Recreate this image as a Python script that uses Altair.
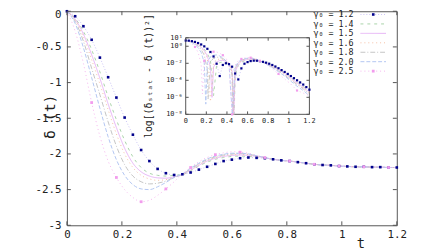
import altair as alt
import pandas as pd

MONO = "DejaVu Sans Mono"
FRAME = "#555555"
TXT = "#222222"

series = ["1.2", "1.4", "1.5", "1.6", "1.8", "2.0", "2.5"]
legend_labels = ["γ₀ = 1.2", "γ₀ = 1.4", "γ₀ = 1.5", "γ₀ = 1.6", "γ₀ = 1.8", "γ₀ = 2.0", "γ₀ = 2.5"]
colors = ["#c9c3f5", "#a9d3a9", "#e6b3f5", "#f6bfa3", "#c4c4c4", "#b3c6f2", "#f5b5ef"]
dashes = [[1, 2], [3, 4], [1, 0], [1, 3], [5, 2, 1, 2], [4, 2], [1, 3]]
dot_color = "#00008b"
pink_mark_color = "#f29ced"

# main panel sampling times
t = [0.00, 0.03, 0.06, 0.09, 0.12, 0.15, 0.18, 0.21, 0.24, 0.27, 0.30, 0.33, 0.36, 0.39,
     0.42, 0.45, 0.48, 0.51, 0.54, 0.57, 0.60, 0.63, 0.66, 0.69, 0.72, 0.75, 0.78, 0.81,
     0.84, 0.87, 0.90, 0.93, 0.96, 0.99, 1.02, 1.05, 1.08, 1.11, 1.14, 1.17, 1.20]

tail = [-2.075, -2.09, -2.10, -2.115, -2.13, -2.145, -2.155, -2.16, -2.17, -2.175, -2.18,
        -2.18, -2.185, -2.185, -2.19, -2.19]

d12 = [0, -0.07, -0.21, -0.40, -0.65, -0.925, -1.21, -1.49, -1.73, -1.945, -2.10, -2.21,
       -2.27, -2.295, -2.285, -2.26, -2.22, -2.18, -2.14, -2.10, -2.08, -2.06, -2.05, -2.055,
       -2.06] + tail
d14 = [0, -0.10, -0.28, -0.54, -0.85, -1.20, -1.52, -1.81, -2.04, -2.19, -2.27, -2.30, -2.31,
       -2.30, -2.29, -2.235, -2.17, -2.115, -2.075, -2.05, -2.035, -2.03, -2.035, -2.045,
       -2.06] + tail
d15 = [0, -0.11, -0.32, -0.61, -0.94, -1.30, -1.63, -1.92, -2.13, -2.25, -2.31, -2.335, -2.34,
       -2.32, -2.29, -2.225, -2.16, -2.10, -2.06, -2.035, -2.02, -2.015, -2.02, -2.035,
       -2.055] + tail
d16 = [0, -0.12, -0.36, -0.68, -1.02, -1.38, -1.72, -2.00, -2.19, -2.30, -2.35, -2.37, -2.36,
       -2.33, -2.29, -2.22, -2.15, -2.09, -2.05, -2.025, -2.01, -2.005, -2.01, -2.03,
       -2.055] + tail
d18 = [0, -0.14, -0.42, -0.80, -1.17, -1.55, -1.89, -2.15, -2.31, -2.39, -2.42, -2.41, -2.38,
       -2.33, -2.285, -2.21, -2.14, -2.08, -2.04, -2.015, -2.00, -1.995, -2.005, -2.025,
       -2.05] + tail
d20 = [0, -0.17, -0.51, -0.93, -1.36, -1.76, -2.08, -2.30, -2.43, -2.49, -2.50, -2.46, -2.40,
       -2.33, -2.28, -2.20, -2.13, -2.07, -2.03, -2.005, -1.99, -1.99, -2.00, -2.025,
       -2.05] + tail
d25 = [0, -0.28, -0.73, -1.28, -1.75, -2.10, -2.33, -2.50, -2.61, -2.67, -2.65, -2.58, -2.49,
       -2.39, -2.28, -2.19, -2.11, -2.05, -2.01, -1.985, -1.97, -1.975, -1.99, -2.02,
       -2.05] + tail

pink_mark_t = [0.09, 0.18, 0.27, 0.36, 0.45, 0.54, 0.63, 0.72, 0.81, 0.90, 0.99, 1.08, 1.17]

# inset: exponents of log10[(delta_stat - delta(t))^2]
e12 = [0.68, 0.66, 0.60, 0.51, 0.38, 0.21, -0.01, -0.30, -0.67, -1.20, -2.05, -3.5, -2.2,
       -2.0, -2.1, -2.4, -3.2, -3.9, -2.6, -2.05, -1.86, -1.74, -1.69, -1.70, -1.75, -1.83,
       -1.93, -2.05, -2.2, -2.38, -2.58, -2.8, -3.02, -3.25, -3.5, -3.75, -4.0, -4.25, -4.5,
       -4.8, -5.1]
ti14 = [0, 0.03, 0.06, 0.09, 0.12, 0.15, 0.18, 0.21, 0.24, 0.27, 0.30, 0.33, 0.36, 0.39, 0.42,
        0.45, 0.47, 0.48, 0.51, 0.54, 0.57, 0.60, 0.63, 0.66, 0.69, 0.72, 0.78, 0.84, 0.90,
        0.96, 1.02, 1.08, 1.14, 1.20]
ei14 = [0.68, 0.64, 0.56, 0.43, 0.25, -0.01, -0.35, -0.84, -1.65, -5.8, -2.19, -1.92, -1.84,
        -1.92, -2.0, -2.69, -8.0, -3.4, -2.25, -1.88, -1.71, -1.62, -1.59, -1.62, -1.68, -1.77,
        -2.0, -2.3, -2.7, -3.15, -3.65, -4.2, -4.7, -5.3]
ti15 = [0, 0.03, 0.06, 0.09, 0.12, 0.15, 0.18, 0.21, 0.24, 0.255, 0.27, 0.30, 0.33, 0.36,
        0.39, 0.42, 0.45, 0.466, 0.48, 0.51, 0.54, 0.57, 0.60, 0.63, 0.66, 0.69, 0.72, 0.78,
        0.84, 0.90, 0.96, 1.02, 1.08, 1.14, 1.20]
ei15 = [0.68, 0.64, 0.54, 0.40, 0.19, -0.10, -0.50, -1.14, -2.44, -6.0, -2.44, -1.84, -1.68,
        -1.65, -1.77, -2.0, -2.91, -8.0, -3.05, -2.09, -1.77, -1.62, -1.54, -1.51, -1.54,
        -1.62, -1.74, -2.0, -2.35, -2.75, -3.2, -3.75, -4.3, -4.8, -5.4]
ti16 = [0, 0.03, 0.06, 0.09, 0.12, 0.15, 0.18, 0.21, 0.24, 0.27, 0.30, 0.33, 0.36, 0.39, 0.42,
        0.45, 0.463, 0.48, 0.51, 0.54, 0.57, 0.60, 0.63, 0.66, 0.69, 0.72, 0.78, 0.84, 0.90,
        0.96, 1.02, 1.08, 1.14, 1.20]
ei16 = [0.68, 0.63, 0.52, 0.36, 0.14, -0.18, -0.66, -1.44, -6.5, -1.92, -1.59, -1.49, -1.54,
        -1.71, -2.0, -3.05, -8.0, -2.8, -2.0, -1.71, -1.57, -1.49, -1.47, -1.49, -1.59, -1.74,
        -2.05, -2.4, -2.8, -3.3, -3.85, -4.4, -4.9, -5.5]
ti18 = [0, 0.03, 0.06, 0.09, 0.12, 0.15, 0.18, 0.21, 0.217, 0.24, 0.27, 0.30, 0.33, 0.36,
        0.39, 0.42, 0.45, 0.455, 0.48, 0.51, 0.54, 0.57, 0.60, 0.63, 0.66, 0.69, 0.72, 0.78,
        0.84, 0.90, 0.96, 1.02, 1.08, 1.14, 1.20]
ei18 = [0.68, 0.62, 0.50, 0.29, 0.02, -0.39, -1.05, -2.8, -6.2, -1.84, -1.40, -1.28, -1.32,
        -1.44, -1.71, -2.04, -3.4, -8.0, -2.6, -1.92, -1.65, -1.51, -1.44, -1.42, -1.47, -1.56,
        -1.71, -2.05, -2.45, -2.9, -3.4, -3.95, -4.5, -5.0, -5.6]
ti20 = [0, 0.03, 0.06, 0.09, 0.12, 0.15, 0.18, 0.195, 0.21, 0.24, 0.27, 0.30, 0.33, 0.36,
        0.39, 0.42, 0.452, 0.48, 0.51, 0.54, 0.57, 0.60, 0.63, 0.66, 0.69, 0.72, 0.78, 0.84,
        0.90, 0.96, 1.02, 1.08, 1.14, 1.20]
ei20 = [0.68, 0.61, 0.45, 0.20, -0.16, -0.73, -1.92, -6.8, -1.92, -1.24, -1.05, -1.02, -1.14,
        -1.36, -1.71, -2.09, -8.0, -2.44, -1.84, -1.59, -1.47, -1.40, -1.40, -1.44, -1.56,
        -1.71, -2.1, -2.5, -3.0, -3.5, -4.1, -4.7, -5.2, -5.8]
ti25 = [0, 0.03, 0.06, 0.09, 0.12, 0.15, 0.162, 0.18, 0.21, 0.24, 0.27, 0.30, 0.33, 0.36,
        0.39, 0.42, 0.45, 0.48, 0.51, 0.54, 0.57, 0.60, 0.63, 0.66, 0.69, 0.72, 0.78, 0.84,
        0.90, 0.96, 1.02, 1.08, 1.14, 1.20]
ei25 = [0.68, 0.56, 0.33, -0.08, -0.71, -2.09, -5.6, -1.71, -1.02, -0.75, -0.64, -0.67, -0.82,
        -1.05, -1.40, -2.09, -8.0, -2.19, -1.71, -1.49, -1.38, -1.32, -1.34, -1.40, -1.54,
        -1.71, -2.1, -2.65, -3.25, -3.85, -4.45, -5.2, -5.5, -5.8]

x_ticks = [0, 0.2, 0.4, 0.6, 0.8, 1.0, 1.2]
y_ticks = [0, -0.5, -1, -1.5, -2, -2.5, -3]
inset_x_ticks = [0, 0.2, 0.4, 0.6, 0.8, 1.0, 1.2]
inset_x_labels = ["0", "0.2", "0.4", "0.6", "0.8", "1", "1.2"]
inset_y_ticks = [10, 1, 1e-2, 1e-4, 1e-6, 1e-8]
inset_y_labels = ["10¹", "10⁰", "10⁻²", "10⁻⁴", "10⁻⁶", "10⁻⁸"]

# ---------------- data frames ----------------
main_rows = []
for s, vals in zip(series, [d12, d14, d15, d16, d18, d20, d25]):
    for ti, v in zip(t, vals):
        main_rows.append({"t": ti, "d": v, "series": s})
main_df = pd.DataFrame(main_rows)
dots_df = main_df[main_df.series == "1.2"]
pink_df = main_df[(main_df.series == "2.5") & (main_df.t.round(2).isin(pink_mark_t))]

inset_rows = []
inset_sets = [(t, e12), (ti14, ei14), (ti15, ei15), (ti16, ei16), (ti18, ei18),
              (ti20, ei20), (ti25, ei25)]
for s, (ts, es) in zip(series, inset_sets):
    for ti, e in zip(ts, es):
        inset_rows.append({"t": ti, "v": 10.0 ** e, "series": s})
inset_df = pd.DataFrame(inset_rows)
inset_dots = inset_df[inset_df.series == "1.2"]
inset_pink = inset_df[(inset_df.series == "2.5") & (inset_df.t.round(3).isin(pink_mark_t))]

color = alt.Color("series:N", scale=alt.Scale(domain=series, range=colors), legend=None)
dash = alt.StrokeDash("series:N", scale=alt.Scale(domain=series, range=dashes), legend=None)

W, H = 336, 218

# ---------------- main panel ----------------
xs = alt.Scale(domain=[0, 1.2], nice=False, zero=False)
ys = alt.Scale(domain=[-3, 0], nice=False, zero=False)
xaxis = alt.Axis(values=x_ticks, labelExpr="toString(datum.value)", ticks=False, tickSize=0,
                 domain=False, grid=False, labelFont=MONO, labelFontSize=11, labelColor=TXT,
                 labelPadding=3, labelFlush=False, title="t", titleFont=MONO, titleFontSize=14,
                 titleFontWeight="normal", titleColor=TXT, titleX=299, titleY=19,
                 titleBaseline="middle", titleAlign="center")
yaxis = alt.Axis(values=y_ticks, labelExpr="toString(datum.value)", ticks=False, tickSize=0,
                 domain=False, grid=False, labelFont=MONO, labelFontSize=11, labelColor=TXT,
                 labelPadding=6, labelFlush=False,
                 labelOffset={"condition": {"test": "datum.value == 0", "value": 3}, "value": 0},
                 title="δ (t)", titleFont=MONO,
                 titleFontSize=15, titleFontWeight="normal", titleColor=TXT, titleX=-18,
                 titleY=107, titleAngle=270, titleBaseline="middle", titleAlign="center")
X = alt.X("t:Q", scale=xs, axis=xaxis)
Y = alt.Y("d:Q", scale=ys, axis=yaxis)

main_lines = alt.Chart(main_df).mark_line(strokeWidth=1, interpolate="monotone").encode(
    x=X, y=Y, color=color, strokeDash=dash)
main_dots = alt.Chart(dots_df).mark_square(size=7, color=dot_color, opacity=1).encode(x=X, y=Y)
main_pink = alt.Chart(pink_df).mark_square(size=8, color=pink_mark_color, opacity=1).encode(x=X, y=Y)

xt_df = pd.DataFrame({"t": x_ticks})
yt_df = pd.DataFrame({"d": y_ticks})
tick_b = alt.Chart(xt_df).mark_rule(color=FRAME).encode(x=X, y=alt.value(H), y2=alt.value(H - 4))
tick_t = alt.Chart(xt_df).mark_rule(color=FRAME).encode(x=X, y=alt.value(0), y2=alt.value(4))
tick_l = alt.Chart(yt_df).mark_rule(color=FRAME).encode(y=Y, x=alt.value(0), x2=alt.value(4))
tick_r = alt.Chart(yt_df).mark_rule(color=FRAME).encode(y=Y, x=alt.value(W), x2=alt.value(W - 4))

main = alt.layer(main_lines, main_dots, main_pink, tick_b, tick_t, tick_l, tick_r)

# ---------------- inset ----------------
IX0, IX1, IY0, IY1 = 121, 247, 105, 27
ixs = alt.Scale(domain=[0, 1.2], range=[IX0, IX1], nice=False, zero=False)
iys = alt.Scale(type="log", domain=[1e-8, 10], range=[IY0, IY1], nice=False, clamp=True)
IX = alt.X("t:Q", scale=ixs, axis=None)
IY = alt.Y("v:Q", scale=iys, axis=None)

frame_df = pd.DataFrame({"t": [0.0], "t2": [1.2], "v": [1e-8], "v2": [10.0]})
inset_frame = alt.Chart(frame_df).mark_rect(fillOpacity=0, stroke=FRAME, strokeWidth=1).encode(
    x=IX, x2="t2:Q", y=IY, y2="v2:Q")
inset_lines = alt.Chart(inset_df).mark_line(strokeWidth=0.9).encode(
    x=IX, y=IY, color=color, strokeDash=dash)
inset_dot = alt.Chart(inset_dots).mark_square(size=5, color=dot_color, opacity=1).encode(x=IX, y=IY)
inset_pk = alt.Chart(inset_pink).mark_square(size=5, color=pink_mark_color, opacity=1).encode(x=IX, y=IY)

ixt_df = pd.DataFrame({"t": inset_x_ticks, "lab": inset_x_labels})
iyt_df = pd.DataFrame({"v": inset_y_ticks, "lab": inset_y_labels})
itb = alt.Chart(ixt_df).mark_rule(color=FRAME).encode(x=IX, y=alt.value(IY0), y2=alt.value(IY0 - 3))
itt = alt.Chart(ixt_df).mark_rule(color=FRAME).encode(x=IX, y=alt.value(IY1), y2=alt.value(IY1 + 3))
itl = alt.Chart(iyt_df).mark_rule(color=FRAME).encode(y=IY, x=alt.value(IX0), x2=alt.value(IX0 + 3))
itr = alt.Chart(iyt_df).mark_rule(color=FRAME).encode(y=IY, x=alt.value(IX1), x2=alt.value(IX1 - 3))
ixl = alt.Chart(ixt_df).mark_text(font=MONO, fontSize=7, color=TXT, baseline="middle",
                                  align="center").encode(x=IX, y=alt.value(112), text="lab:N")
iyl = alt.Chart(iyt_df).mark_text(font=MONO, fontSize=7, color=TXT, baseline="middle",
                                  align="right").encode(y=IY, x=alt.value(118), text="lab:N")
ititle_df = pd.DataFrame({"lab": ["log[(δₛₜₐₜ - δ (t))²]"]})
ititle = alt.Chart(ititle_df).mark_text(font=MONO, fontSize=10, color=TXT, angle=270,
                                        baseline="middle", align="center").encode(
    x=alt.value(84), y=alt.value(66), text="lab:N")

inset = alt.layer(inset_frame, inset_lines, inset_dot, inset_pk, itb, itt, itl, itr, ixl, iyl, ititle)

# ---------------- legend ----------------
leg_df = pd.DataFrame({"series": series, "label": legend_labels})
LY = alt.Y("series:N", scale=alt.Scale(type="point", domain=series, range=[3.3, 61], padding=0),
           axis=None)
leg_text = alt.Chart(leg_df).mark_text(font=MONO, fontSize=8.5, color=TXT, align="right",
                                       baseline="middle").encode(
    x=alt.value(292), y=LY, text="label:N")
leg_rule = alt.Chart(leg_df).mark_rule(strokeWidth=1).encode(
    x=alt.value(299), x2=alt.value(325), y=LY, color=color, strokeDash=dash)
leg_d = alt.Chart(leg_df[leg_df.series == "1.2"]).mark_square(size=7, color=dot_color, opacity=1).encode(
    x=alt.value(312), y=LY)
leg_p = alt.Chart(leg_df[leg_df.series == "2.5"]).mark_square(size=8, color=pink_mark_color, opacity=1).encode(
    x=alt.value(312), y=LY)
legend = alt.layer(leg_text, leg_rule, leg_d, leg_p)

chart = alt.layer(main, inset, legend).resolve_scale(
    x="independent", y="independent"
).properties(
    width=W, height=H,
    padding={"left": 60, "top": 1, "right": 44, "bottom": 30},
    autosize=alt.AutoSizeParams(type="none"),
).configure_view(stroke=FRAME, strokeWidth=1)

chart.save("out.html", embed_options={"renderer": "svg", "actions": False})
